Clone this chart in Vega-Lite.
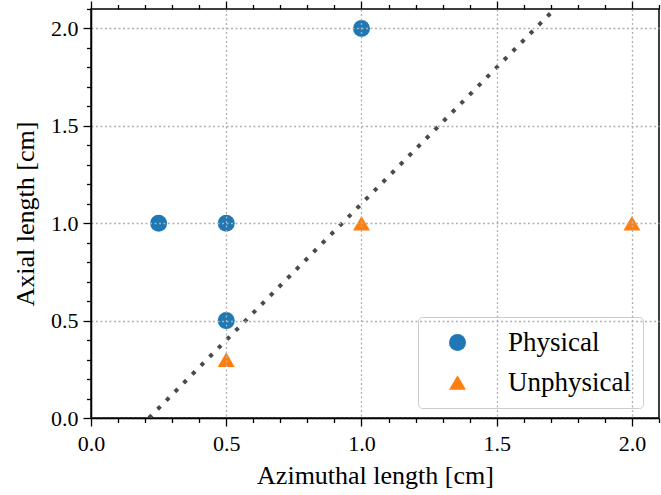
{
  "$schema": "https://vega.github.io/schema/vega-lite/v6.json",
  "width": 568,
  "height": 409,
  "autosize": {"type": "none"},
  "padding": {"left": 91, "top": 9, "right": 2, "bottom": 77},
  "config": {
    "font": "Liberation Serif",
    "view": {"stroke": "#000000", "strokeWidth": 1.5},
    "axis": {
      "domainColor": "#000000",
      "domainWidth": 1.5,
      "tickColor": "#000000",
      "tickWidth": 1.3,
      "labelColor": "#000000",
      "titleColor": "#000000",
      "labelFont": "Liberation Serif",
      "titleFont": "Liberation Serif",
      "labelFontSize": 22,
      "titleFontSize": 26,
      "titleFontWeight": "normal",
      "gridColor": "#b0b0b0",
      "gridWidth": 1.3,
      "gridDash": [2, 2.5],
      "labelOverlap": false,
      "labelBound": false,
      "labelFlush": false
    },
    "legend": {
      "labelFont": "Liberation Serif",
      "labelFontSize": 27,
      "labelColor": "#000000"
    }
  },
  "layer": [
    {
      "data": {"values": [{"az": 0.2143, "ax": 0.0}, {"az": 1.7143, "ax": 2.1}]},
      "mark": {"type": "line", "color": "#4a4a4a", "strokeWidth": 4, "strokeDash": [4, 8.3], "strokeCap": "butt"},
      "encoding": {
        "x": {
          "field": "az", "type": "quantitative",
          "scale": {"domain": [0, 2.1], "nice": false, "zero": false},
          "axis": {
            "orient": "bottom",
            "title": "Azimuthal length [cm]",
            "values": [0, 0.1, 0.2, 0.3, 0.4, 0.5, 0.6, 0.7, 0.8, 0.9, 1.0, 1.1, 1.2, 1.3, 1.4, 1.5, 1.6, 1.7, 1.8, 1.9, 2.0, 2.1],
            "labelExpr": "abs(datum.value*2-round(datum.value*2)) < 0.001 ? format(datum.value, '.1f') : ''",
            "labelFont": "Liberation Serif",
            "labelFontSize": 22,
            "tickSize": {"condition": {"test": "abs(datum.value*2-round(datum.value*2)) < 0.001", "value": 8}, "value": 4.5},
            "grid": true,
            "gridOpacity": {"condition": {"test": "abs(datum.value*2-round(datum.value*2)) < 0.001", "value": 1}, "value": 0},
            "labelPadding": 7,
            "titlePadding": 8,
            "zindex": 1
          }
        },
        "y": {
          "field": "ax", "type": "quantitative",
          "scale": {"domain": [0, 2.1], "nice": false, "zero": false},
          "axis": {
            "orient": "left",
            "title": "Axial length [cm]",
            "values": [0, 0.1, 0.2, 0.3, 0.4, 0.5, 0.6, 0.7, 0.8, 0.9, 1.0, 1.1, 1.2, 1.3, 1.4, 1.5, 1.6, 1.7, 1.8, 1.9, 2.0, 2.1],
            "labelExpr": "abs(datum.value*2-round(datum.value*2)) < 0.001 ? format(datum.value, '.1f') : ''",
            "labelFont": "Liberation Serif",
            "labelFontSize": 22,
            "tickSize": {"condition": {"test": "abs(datum.value*2-round(datum.value*2)) < 0.001", "value": 8}, "value": 4.5},
            "grid": true,
            "gridOpacity": {"condition": {"test": "abs(datum.value*2-round(datum.value*2)) < 0.001", "value": 1}, "value": 0},
            "labelPadding": 5,
            "titlePadding": 12,
            "zindex": 1
          }
        }
      }
    },
    {
      "data": {
        "values": [
          {"az": 0.25, "ax": 1.0, "kind": "Physical"},
          {"az": 0.5, "ax": 1.0, "kind": "Physical"},
          {"az": 0.5, "ax": 0.5, "kind": "Physical"},
          {"az": 1.0, "ax": 2.0, "kind": "Physical"},
          {"az": 0.5, "ax": 0.3, "kind": "Unphysical"},
          {"az": 1.0, "ax": 1.0, "kind": "Unphysical"},
          {"az": 2.0, "ax": 1.0, "kind": "Unphysical"}
        ]
      },
      "mark": {"type": "point", "filled": true, "opacity": 1, "size": 289, "strokeWidth": 0},
      "encoding": {
        "x": {
          "field": "az", "type": "quantitative",
          "scale": {"domain": [0, 2.1], "nice": false, "zero": false},
          "axis": {
            "orient": "top",
            "title": null,
            "labels": false,
            "domain": false,
            "grid": false,
            "values": [0, 0.1, 0.2, 0.3, 0.4, 0.5, 0.6, 0.7, 0.8, 0.9, 1.0, 1.1, 1.2, 1.3, 1.4, 1.5, 1.6, 1.7, 1.8, 1.9, 2.0, 2.1],
            "tickSize": {"condition": {"test": "abs(datum.value*2-round(datum.value*2)) < 0.001", "value": 8}, "value": 4.5}
          }
        },
        "y": {"field": "ax", "type": "quantitative", "axis": null},
        "color": {
          "field": "kind", "type": "nominal",
          "scale": {"domain": ["Physical", "Unphysical"], "range": ["#1f77b4", "#ff7f0e"]},
          "legend": {
            "title": null,
            "orient": "none",
            "legendX": 327,
            "legendY": 308,
            "strokeColor": "#cccccc",
            "cornerRadius": 4,
            "fillColor": "rgba(255,255,255,0.8)",
            "padding": 12,
            "symbolSize": 289,
            "symbolOffset": 14,
            "labelOffset": 37,
            "rowPadding": 12,
            "symbolStrokeWidth": 0
          }
        },
        "shape": {
          "field": "kind", "type": "nominal",
          "scale": {"domain": ["Physical", "Unphysical"], "range": ["circle", "triangle-up"]},
          "legend": {"title": null}
        }
      }
    }
  ],
  "resolve": {"axis": {"x": "independent", "y": "independent"}}
}
